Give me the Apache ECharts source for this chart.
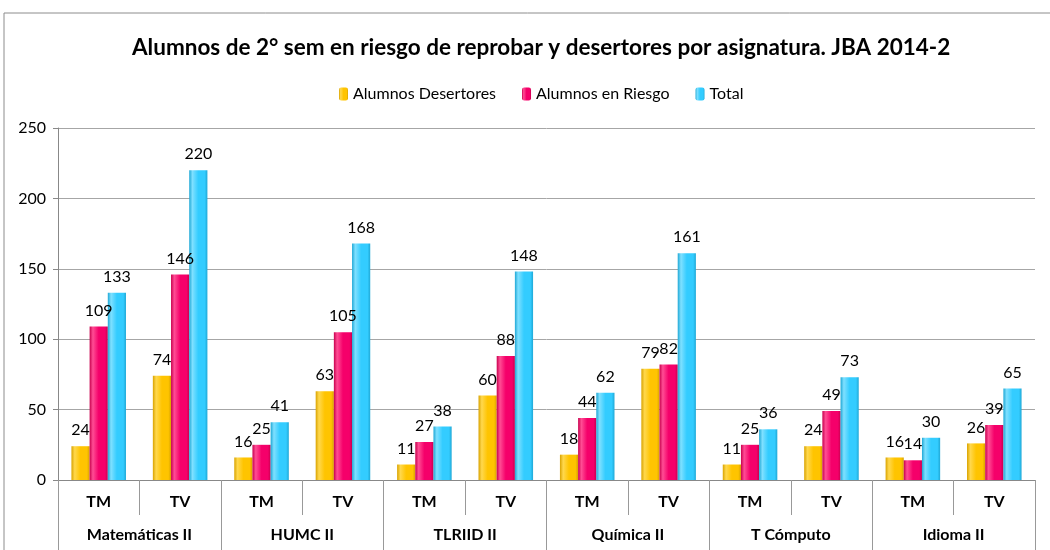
<!DOCTYPE html>
<html>
<head>
<meta charset="utf-8">
<script src="https://cdn.jsdelivr.net/npm/echarts@6/dist/echarts.min.js"></script>
<style>
  html, body { margin: 0; padding: 0; background: #fff; }
  #chart { width: 1050px; height: 550px; }
</style>
</head>
<body>
<div id="chart"></div>
<script>
// turnos por asignatura
const turnos = ['TM', 'TV', 'TM', 'TV', 'TM', 'TV', 'TM', 'TV', 'TM', 'TV', 'TM', 'TV']
const asignaturas = ['Matemáticas II', 'HUMC II', 'TLRIID II', 'Química II', 'T Cómputo', 'Idioma II']
const desertores = [24, 74, 16, 63, 11, 60, 18, 79, 11, 24, 16, 26]
const enRiesgo = [109, 146, 25, 105, 27, 88, 44, 82, 25, 49, 14, 39]
const total = [133, 220, 41, 168, 38, 148, 62, 161, 36, 73, 30, 65]

const font = 'Lato'

function barColor(edge, mid, light) {
  // sombreado horizontal para imitar la barra biselada
  return {
    type: 'linear', x: 0, y: 0, x2: 1, y2: 0,
    colorStops: [
      { offset: 0, color: edge },
      { offset: 0.18, color: light },
      { offset: 0.5, color: mid },
      { offset: 0.85, color: mid },
      { offset: 1, color: edge }
    ]
  }
}

function makeSeries(name, data, color) {
  return {
    name,
    type: 'bar',
    data,
    barGap: 0,
    barCategoryGap: '33%',
    itemStyle: { color },
    label: {
      show: true,
      position: 'top',
      distance: 8,
      color: '#000',
      fontFamily: font,
      fontSize: 16
    }
  }
}

const chart = echarts.init(document.getElementById('chart'))
chart.setOption({
  animation: false,
  textStyle: { fontFamily: font },
  graphic: [{
    type: 'rect',
    shape: { x: 4, y: 13, width: 1100, height: 600 },
    style: { fill: 'none', stroke: '#8c8c8c', lineWidth: 1 },
    silent: true,
    z: -1
  }],
  title: {
    text: 'Alumnos de 2° sem en riesgo de reprobar y desertores por asignatura. JBA 2014-2',
    left: 127,
    top: 31,
    textStyle: { fontFamily: font, fontSize: 22.5, fontWeight: 'bold', color: '#000' }
  },
  legend: {
    top: 81,
    left: 334,
    itemWidth: 9,
    itemHeight: 13,
    itemGap: 26,
    textStyle: { fontFamily: font, fontSize: 16, color: '#000' },
    data: ['Alumnos Desertores', 'Alumnos en Riesgo', 'Total']
  },
  grid: { left: 58, right: 15, top: 128, bottom: 70 },
  xAxis: [
    {
      type: 'category',
      data: turnos,
      axisLine: { lineStyle: { color: '#888' } },
      axisTick: { show: true, interval: 0, length: 35, lineStyle: { color: '#999' } },
      axisLabel: { interval: 0, margin: 14, fontFamily: font, fontSize: 16, fontWeight: 'bold', color: '#000' }
    },
    {
      type: 'category',
      data: asignaturas,
      position: 'bottom',
      axisLine: { show: false },
      axisTick: { show: true, interval: 0, length: 75, lineStyle: { color: '#999' } },
      axisLabel: { interval: 0, margin: 47, fontFamily: font, fontSize: 16, fontWeight: 'bold', color: '#000' }
    }
  ],
  yAxis: {
    type: 'value',
    min: 0,
    max: 250,
    interval: 50,
    axisLine: { show: true, lineStyle: { color: '#888' } },
    axisTick: { show: true, length: 5, lineStyle: { color: '#888' } },
    axisLabel: { margin: 12, fontFamily: font, fontSize: 16, color: '#000' },
    splitLine: { lineStyle: { color: '#a6a6a6' } }
  },
  series: [
    makeSeries('Alumnos Desertores', desertores, barColor('#D9A300', '#FFC400', '#FFD84D')),
    makeSeries('Alumnos en Riesgo', enRiesgo, barColor('#C8004E', '#F5006A', '#FF4D94')),
    makeSeries('Total', total, barColor('#1FA8D6', '#33CCFF', '#7FE0FF'))
  ]
})
</script>
</body>
</html>
